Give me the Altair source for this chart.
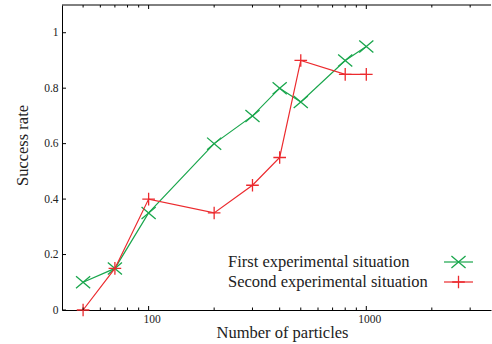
import altair as alt
import pandas as pd

# ---- data ----
particles = [50, 70, 100, 200, 300, 400, 500, 800, 1000]
first_rate = [0.10, 0.15, 0.35, 0.60, 0.70, 0.80, 0.75, 0.90, 0.95]
second_rate = [0.00, 0.15, 0.40, 0.35, 0.45, 0.55, 0.90, 0.85, 0.85]
series_names = ["First experimental situation", "Second experimental situation"]
series_colors = ["#19a64c", "#ec2a2e"]

x_major = [100, 1000]
x_minor = [50, 60, 70, 80, 90, 200, 300, 400, 500, 600, 700, 800, 900, 2000, 3000]
y_ticks = [0, 0.2, 0.4, 0.6, 0.8, 1.0]

W, H = 429, 305
FONT = "Liberation Serif"
TXT = "#222222"

xscale = alt.Scale(type="log", domain=[40, 3740], nice=False)
yscale = alt.Scale(domain=[0, 1.1], nice=False)

df1 = pd.DataFrame({"n": particles, "rate": first_rate})
df2 = pd.DataFrame({"n": particles, "rate": second_rate})

X_SHAPE = "M-1,-0.85L1,0.85M-1,0.85L1,-0.85"
P_SHAPE = "M-1,0L1,0M0,-1L0,1"

xaxis = alt.Axis(
    values=x_major, format="d", ticks=False, grid=False, domainColor="black",
    labelFont=FONT, labelFontSize=11.5, labelColor=TXT, labelPadding=3,
    labelOffset=3,
    title="Number of particles", titleFont=FONT, titleFontSize=16.5,
    titleFontWeight="normal", titleColor=TXT, titleBaseline="alphabetic",
    titleY=27, titleX=220, titleAlign="center",
)
yaxis = alt.Axis(
    values=y_ticks, format="~g", ticks=False, grid=False, domainColor="black",
    labelFont=FONT, labelFontSize=11.5, labelColor=TXT, labelPadding=4,
    title="Success rate", titleFont=FONT, titleFontSize=16.5,
    titleFontWeight="normal", titleColor=TXT, titleAngle=270,
    titleBaseline="alphabetic", titleX=-35, titleY=140, titleAlign="center",
)

def series_layers(df, color, shape, size):
    line = alt.Chart(df).mark_line(color=color, strokeWidth=1.2).encode(
        x=alt.X("n:Q", scale=xscale, axis=xaxis),
        y=alt.Y("rate:Q", scale=yscale, axis=yaxis),
    )
    pts = alt.Chart(df).mark_point(
        shape=shape, filled=False, color=color, strokeWidth=1.3, size=size, opacity=1
    ).encode(
        x=alt.X("n:Q", scale=xscale),
        y=alt.Y("rate:Q", scale=yscale),
    )
    return [line, pts]

# ticks (inward, gnuplot style)
dmaj = pd.DataFrame({"v": x_major})
dmin = pd.DataFrame({"v": x_minor})
dy = pd.DataFrame({"v": y_ticks})

def xtick(df, y0, y1):
    return alt.Chart(df).mark_rule(color="black", strokeWidth=1).encode(
        x=alt.X("v:Q", scale=xscale), y=alt.value(y0), y2=alt.value(y1)
    )

ticks = [
    xtick(dmaj, H, H - 4), xtick(dmin, H, H - 2.5),
    xtick(dmaj, 0, 4), xtick(dmin, 0, 2.5),
    alt.Chart(dy).mark_rule(color="black", strokeWidth=1).encode(
        y=alt.Y("v:Q", scale=yscale), x=alt.value(0), x2=alt.value(4)
    ),
]

top_frame = alt.Chart(pd.DataFrame({"a": [0]})).mark_rule(color="black", strokeWidth=1).encode(
    x=alt.value(0), x2=alt.value(W), y=alt.value(0)
)

# legend (text then sample, gnuplot style)
legend_layers = []
shapes = [(X_SHAPE, 200), (P_SHAPE, 160)]
for i, (name, col) in enumerate(zip(series_names, series_colors)):
    ly = 257 + 20 * i
    ldf = pd.DataFrame({"name": [name]})
    legend_layers.append(
        alt.Chart(ldf).mark_text(align="left", baseline="middle", font=FONT,
                                 fontSize=16.5, color=TXT).encode(
            x=alt.value(166), y=alt.value(ly), text="name:N")
    )
    legend_layers.append(
        alt.Chart(ldf).mark_rule(color=col, strokeWidth=1.2).encode(
            x=alt.value(382), x2=alt.value(411), y=alt.value(ly))
    )
    legend_layers.append(
        alt.Chart(ldf).mark_point(shape=shapes[i][0], filled=False, color=col,
                                  strokeWidth=1.3, size=shapes[i][1], opacity=1).encode(
            x=alt.value(396.5), y=alt.value(ly))
    )

layers = (series_layers(df1, series_colors[0], X_SHAPE, 200)
          + series_layers(df2, series_colors[1], P_SHAPE, 160)
          + ticks + [top_frame] + legend_layers)

chart = alt.layer(*layers).properties(
    width=W, height=H,
    autosize=alt.AutoSizeParams(type="none"),
    padding={"left": 62, "top": 5, "right": 1, "bottom": 34},
    background="white",
).configure_view(strokeWidth=0)

chart.save("out.html", embed_options={"renderer": "svg", "actions": False})
